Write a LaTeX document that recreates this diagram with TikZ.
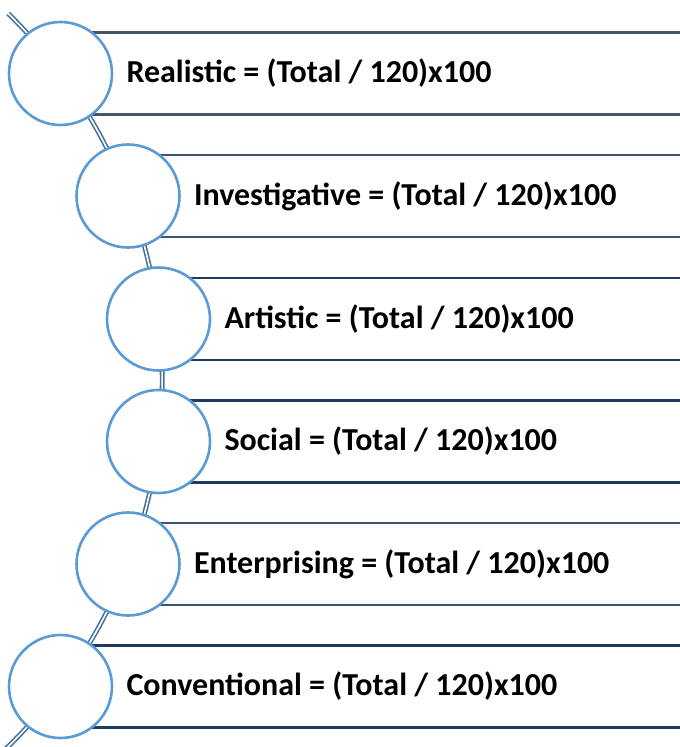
\documentclass[tikz,border=0pt]{standalone}
\usepackage{fontspec}
\setmainfont{Carlito}
\usetikzlibrary{positioning}
\definecolor{ringblue}{HTML}{5B9BD5}
\definecolor{arcblue}{HTML}{41719C}
\definecolor{slate}{HTML}{44546A}
\definecolor{navy}{HTML}{1F3864}
\tikzset{
  ring/.style={circle, draw=ringblue, line width=2.6pt, fill=white, minimum size=103pt, inner sep=0pt},
  rowline/.style={line width=2.9pt},
  scoretext/.style={inner sep=0pt, font=\fontsize{32}{34}\selectfont\bfseries},
}
\begin{document}
\begin{tikzpicture}[x=1pt,y=-1pt]
	\useasboundingbox (0,0) rectangle (680,747);
	\clip (0,0) rectangle (680,747);
	% curved spine behind the circles
	\draw [arcblue, line width=1.6pt, double=white, double distance=1.6pt]
		(-350.8,380) ++(-45.6:513) arc [start angle=-45.6, end angle=48, radius=513];
	\foreach \i/\cx/\cy/\col/\txt in {1/60.5/73.5/slate/Realistic,
			2/128/196/slate/Investigative,
			3/158.5/319/navy/Artistic,
			4/158.5/441.5/navy/Social,
			5/128/564/slate/Enterprising,
			6/60.5/686.5/navy/Conventional} {
		\draw [rowline, \col] (\cx,\cy-41) -- (680,\cy-41);
		\draw [rowline, \col] (\cx,\cy+41) -- (680,\cy+41);
		\node [ring] (c\i) at (\cx,\cy) {};
		\node [scoretext, right=13pt of c\i] (t\i) {\txt\ = (Total / 120)x100};
	};
\end{tikzpicture}
\end{document}
